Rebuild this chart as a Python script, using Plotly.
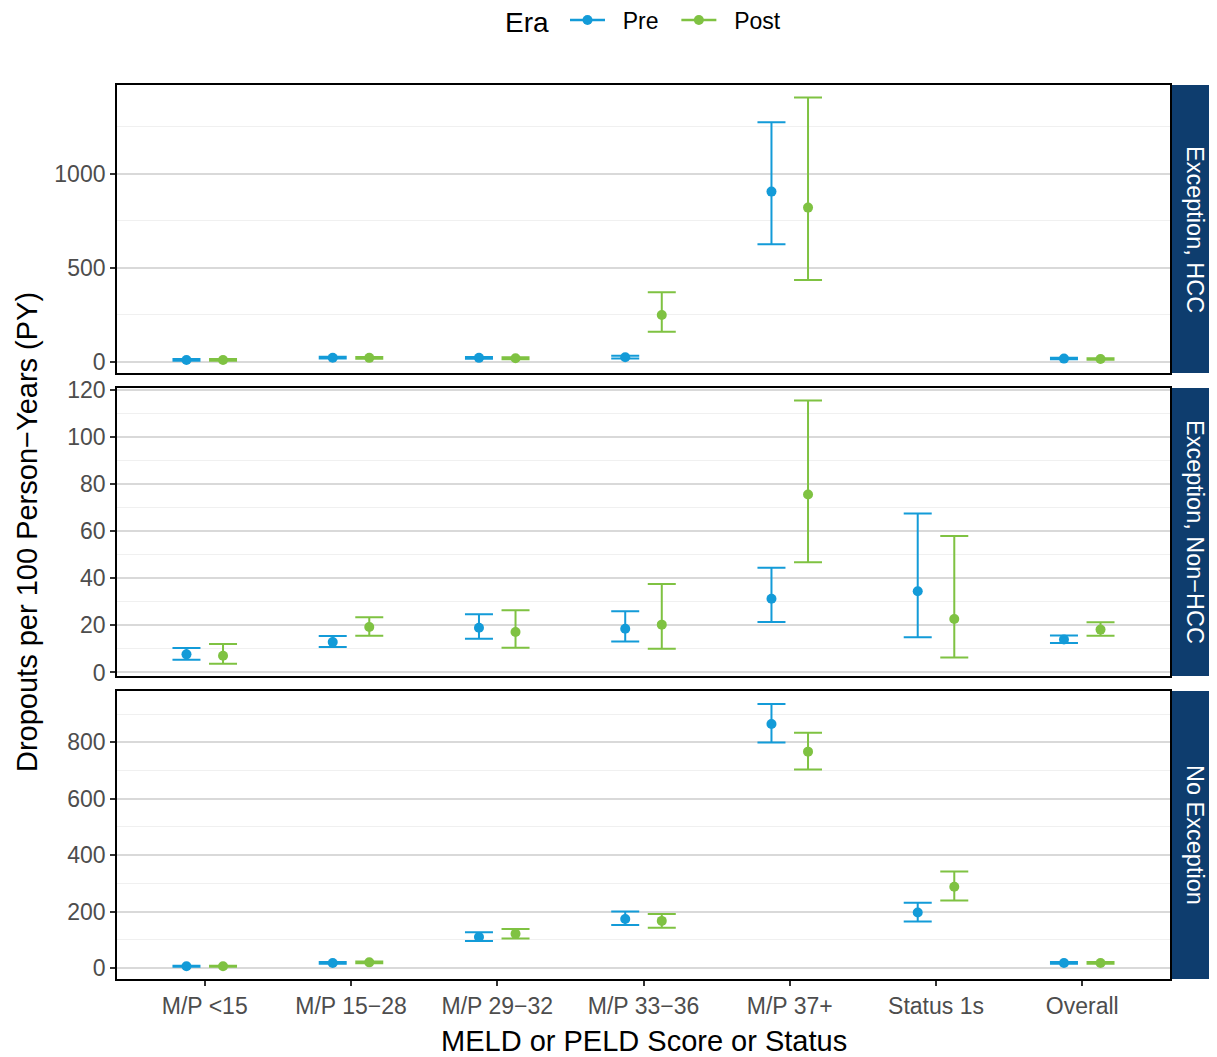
import plotly.graph_objects as go

categories = ["M/P <15", "M/P 15−28", "M/P 29−32", "M/P 33−36", "M/P 37+", "Status 1s", "Overall"]
panels = ["Exception, HCC", "Exception, Non−HCC", "No Exception"]
eras = ["Pre", "Post"]

hcc_pre_rate = [11, 23, 22, 25, 906, None, 18]
hcc_pre_lo = [6, 18, 17, 18, 626, None, 14]
hcc_pre_hi = [16, 28, 27, 33, 1275, None, 22]
hcc_post_rate = [11, 22, 20, 250, 821, None, 16]
hcc_post_lo = [6, 17, 15, 161, 436, None, 12]
hcc_post_hi = [16, 27, 25, 371, 1406, None, 20]

nonhcc_pre_rate = [7.7, 12.9, 19.0, 18.6, 31.3, 34.5, 14.0]
nonhcc_pre_lo = [5.4, 10.8, 14.3, 13.2, 21.4, 15.0, 12.5]
nonhcc_pre_hi = [10.4, 15.5, 24.7, 26.0, 44.5, 67.5, 15.7]
nonhcc_post_rate = [7.1, 19.3, 17.2, 20.3, 75.6, 22.7, 18.2]
nonhcc_post_lo = [3.7, 15.6, 10.5, 10.1, 46.8, 6.4, 15.6]
nonhcc_post_hi = [12.1, 23.5, 26.4, 37.6, 115.5, 57.9, 21.3]

noexc_pre_rate = [6, 18, 110, 174, 865, 197, 18]
noexc_pre_lo = [4, 15, 96, 152, 799, 165, 15]
noexc_pre_hi = [8, 21, 127, 200, 936, 231, 21]
noexc_post_rate = [6, 20, 121, 167, 767, 288, 18]
noexc_post_lo = [4, 17, 105, 143, 704, 239, 15]
noexc_post_hi = [8, 23, 138, 191, 834, 342, 21]

panel_data = [
    [(hcc_pre_rate, hcc_pre_lo, hcc_pre_hi), (hcc_post_rate, hcc_post_lo, hcc_post_hi)],
    [(nonhcc_pre_rate, nonhcc_pre_lo, nonhcc_pre_hi), (nonhcc_post_rate, nonhcc_post_lo, nonhcc_post_hi)],
    [(noexc_pre_rate, noexc_pre_lo, noexc_pre_hi), (noexc_post_rate, noexc_post_lo, noexc_post_hi)],
]

colors = {"Pre": "#139bd8", "Post": "#7fc242"}
offsets = {"Pre": -0.125, "Post": 0.125}
FONT = "Liberation Sans, Arial, sans-serif"
NB = "\u00a0"

# page body margin of 8px shifts the figure; compensate
OFF = 8
W, H = 1217 - OFF, 1057 - OFF
ML, MR, MT, MB = 117 - OFF, 0, 85 - OFF, 78
pw = W - ML - MR
ph = H - MT - MB

def py(p):
    return (H - MB - (p - OFF)) / ph

def px(p):
    return (p - OFF - ML) / pw

panel_px = [(85, 373), (388, 676), (691, 979)]
y_ranges = [[-58.5, 1473], [-1.5, 120.8], [-39, 982]]
y_dticks = [500, 20, 200]
x_end = px(1170)

fig = go.Figure()
for pi, pdata in enumerate(panel_data):
    ax = "" if pi == 0 else str(pi + 1)
    for ei, era in enumerate(eras):
        rate, lo, hi = pdata[ei]
        xs, ys, ep, em = [], [], [], []
        for ci, r in enumerate(rate):
            if r is None:
                continue
            xs.append(ci + 1 + offsets[era])
            ys.append(r)
            ep.append(hi[ci] - r)
            em.append(r - lo[ci])
        fig.add_trace(go.Scatter(
            x=xs, y=ys, mode="markers", xaxis="x" + ax, yaxis="y" + ax,
            marker=dict(color=colors[era], size=10),
            error_y=dict(type="data", array=ep, arrayminus=em, color=colors[era],
                         thickness=2, width=14),
            showlegend=False, hoverinfo="skip"))

for era in eras:
    fig.add_trace(go.Scatter(x=[None], y=[None], mode="lines+markers", name=NB * 2 + era + NB * 2,
                             line=dict(color=colors[era], width=2.5),
                             marker=dict(color=colors[era], size=10),
                             xaxis="x", yaxis="y"))

layout = dict(
    width=W, height=H,
    margin=dict(l=ML, r=MR, t=MT, b=MB, autoexpand=False),
    paper_bgcolor="white", plot_bgcolor="white",
    font=dict(family=FONT, color="#4d4d4d", size=15),
    legend=dict(orientation="h", x=px(565), xanchor="left", y=py(20),
                yanchor="middle", font=dict(size=23, color="black"),
                itemwidth=35, bgcolor="rgba(0,0,0,0)"),
    shapes=[], annotations=[],
)

for pi in range(3):
    ax = "" if pi == 0 else str(pi + 1)
    top, bot = panel_px[pi]
    dom = [py(bot), py(top)]
    last = pi == 2
    layout["xaxis" + ax] = dict(
        domain=[0, x_end], range=[0.4, 7.6], anchor="y" + ax, automargin=False,
        tickmode="array", tickvals=list(range(1, 8)), ticktext=categories,
        showticklabels=last, ticks="outside" if last else "", ticklen=5, tickwidth=1.5,
        tickcolor="#333333", tickfont=dict(size=23, color="#4d4d4d"),
        showgrid=False, zeroline=False, showline=True, mirror=True,
        linecolor="black", linewidth=1.8)
    layout["yaxis" + ax] = dict(
        domain=dom, range=y_ranges[pi], anchor="x" + ax, automargin=False,
        tick0=0, dtick=y_dticks[pi], ticks="outside", ticklen=5, tickwidth=1.5,
        tickcolor="#333333", tickfont=dict(size=23, color="#4d4d4d"),
        showgrid=True, gridcolor="#d9d9d9", gridwidth=1.5,
        minor=dict(dtick=y_dticks[pi] / 2, showgrid=True, gridcolor="#f0f0f0", gridwidth=1),
        zeroline=False, showline=True, mirror=True, linecolor="black", linewidth=1.8)
    layout["shapes"].append(dict(type="rect", xref="paper", yref="paper",
                                 x0=px(1172), x1=1.0, y0=dom[0], y1=dom[1],
                                 fillcolor="#0e3d6e", line=dict(width=0), layer="below"))
    layout["annotations"].append(dict(text=panels[pi], xref="paper", yref="paper",
                                      x=px(1195), y=(dom[0] + dom[1]) / 2, showarrow=False,
                                      textangle=90, font=dict(size=23.5, color="white"),
                                      xanchor="center", yanchor="middle"))

layout["annotations"].append(dict(text="Era", xref="paper", yref="paper",
                                  x=px(526.5), y=py(22), showarrow=False, borderpad=0,
                                  font=dict(size=28, color="black"), xanchor="center", yanchor="middle"))
layout["annotations"].append(dict(text="Dropouts per 100 Person−Years (PY)", xref="paper", yref="paper",
                                  x=px(27), y=py(532), showarrow=False, textangle=-90,
                                  font=dict(size=29, color="black"), xanchor="center", yanchor="middle"))
layout["annotations"].append(dict(text="MELD or PELD Score or Status", xref="paper", yref="paper",
                                  x=px(644), y=py(1041), showarrow=False,
                                  font=dict(size=29, color="black"), xanchor="center", yanchor="middle"))

fig.update_layout(**layout)
fig.write_html("out.html")
